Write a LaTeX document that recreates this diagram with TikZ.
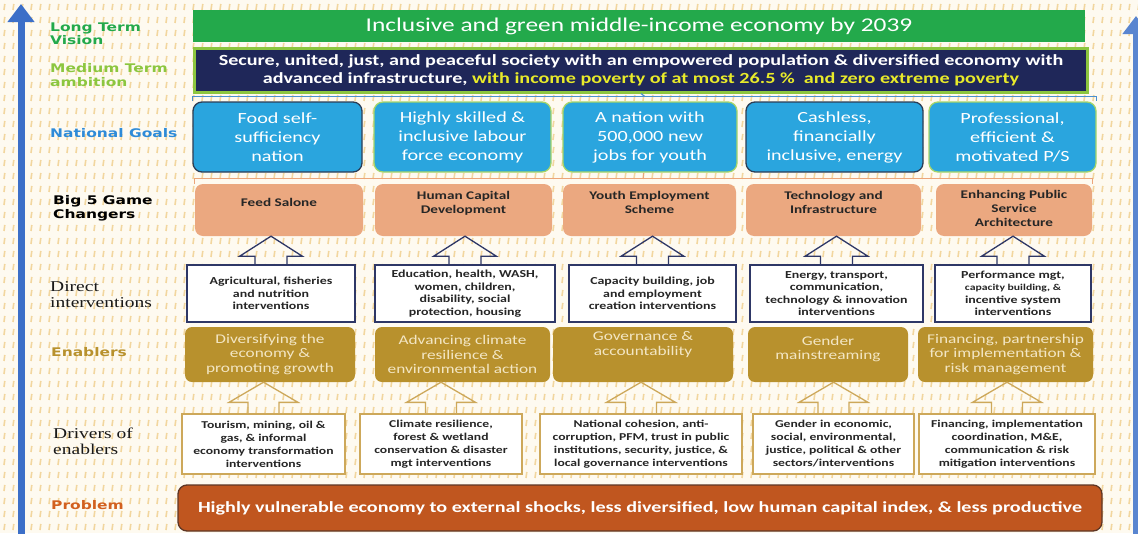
\documentclass[tikz,border=0pt]{standalone}
\usepackage{fontspec}
\setmainfont[FakeStretch=1.3]{Carlito}
\newfontfamily\lblfont[FakeStretch=1.3]{DejaVu Sans}
\newfontfamily\serfont[FakeStretch=1.3]{Liberation Serif}
\usepackage{tikz}
\usetikzlibrary{arrows.meta, positioning, calc, patterns}

\definecolor{bgcream}{HTML}{FEFAF0}
\definecolor{dashcol}{HTML}{F2D69E}
\definecolor{visgreen}{HTML}{23A94B}
\definecolor{ambgreen}{HTML}{8CC63F}
\definecolor{ambnavy}{HTML}{1F2759}
\definecolor{ambyellow}{HTML}{E8EA2A}
\definecolor{goalblue}{HTML}{2AA5DE}
\definecolor{goalrim}{HTML}{A6D568}
\definecolor{goaldark}{HTML}{2C3E56}
\definecolor{gamesalmon}{HTML}{EBA880}
\definecolor{navyline}{HTML}{2E3766}
\definecolor{goldfill}{HTML}{B8912D}
\definecolor{goldtext}{HTML}{F3E6C4}
\definecolor{goldline}{HTML}{CDA85A}
\definecolor{probfill}{HTML}{C0561F}
\definecolor{probline}{HTML}{5E3624}
\definecolor{probred}{HTML}{D2601F}
\definecolor{arrowblue}{HTML}{3C6FC8}
\definecolor{bracketblue}{HTML}{4A90D0}
\definecolor{bracketorange}{HTML}{EBA57A}
\definecolor{goaltitle}{HTML}{2E8BD8}

% background texture
\pgfdeclarepatternformonly{dashtex}{\pgfqpoint{-1pt}{-1pt}}{\pgfqpoint{10pt}{14pt}}{\pgfqpoint{9pt}{13pt}}{
    \pgfsetlinewidth{1.6pt}
    \pgfpathmoveto{\pgfqpoint{4pt}{3pt}}
    \pgfpathlineto{\pgfqpoint{4.8pt}{9pt}}
    \pgfusepath{stroke}}

\tikzstyle{rowname} = [anchor=west, align=left, inner sep=0pt,
    font=\lblfont\bfseries\fontsize{11.9}{13.5}\selectfont]
\tikzstyle{rowserif} = [anchor=west, align=left, inner sep=0pt,
    font=\serfont\fontsize{15}{16.5}\selectfont, text=black!90]
\tikzstyle{vision} = [rectangle, fill=visgreen, minimum width=892pt,
    minimum height=32pt, text=white, font=\fontsize{19.5}{22}\selectfont]
\tikzstyle{ambition} = [rectangle, fill=ambnavy, draw=ambgreen, line width=3pt,
    minimum width=893pt, minimum height=44pt, align=center, text=white,
    font=\bfseries\fontsize{15.5}{18}\selectfont]
\tikzstyle{goal} = [rectangle, rounded corners=9pt, fill=goalblue, draw=goalrim,
    line width=1.3pt, minimum height=70pt, align=center, text=white,
    font=\fontsize{15.5}{19}\selectfont]
\tikzstyle{game} = [rectangle, rounded corners=8pt, fill=gamesalmon,
    minimum height=52pt, align=center, text=black!85, text depth=15pt,
    font=\bfseries\fontsize{11.7}{14}\selectfont]
\tikzstyle{direct} = [rectangle, draw=navyline, line width=1.4pt, fill=white,
    minimum height=57pt, align=center, text=black!85,
    font=\bfseries\fontsize{10.7}{12.5}\selectfont]
\tikzstyle{enabler} = [rectangle, rounded corners=7pt, fill=goldfill,
    minimum height=55pt, align=center, text=goldtext,
    font=\fontsize{13.3}{14.5}\selectfont]
\tikzstyle{driver} = [rectangle, draw=goldline, line width=1.3pt, fill=white,
    minimum height=60pt, align=center, text=black!85,
    font=\bfseries\fontsize{10.5}{13}\selectfont]
\tikzstyle{problem} = [rectangle, rounded corners=9pt, fill=probfill, draw=probline,
    line width=1.3pt, minimum width=924pt, minimum height=46pt, text=white,
    font=\bfseries\fontsize{15.5}{17}\selectfont]
\tikzstyle{hollow} = [line width=1.3pt, line join=miter]
\tikzstyle{brace} = [line width=1.2pt]
\tikzstyle{sidearrow} = [line width=7pt, -{Triangle[length=18pt, width=26pt]}]

\begin{document}
\begin{tikzpicture}[node distance=184pt, x=1pt, y=-1pt]

    \useasboundingbox (0,0) rectangle (1138,533);
    \fill[bgcream] (0,0) rectangle (1138,533);
    \fill[pattern=dashtex, pattern color=dashcol] (0,0) rectangle (1138,533);

    % Side arrows
    \coordinate (lbot) at (21,540);
    \coordinate (ltop) at (21,4);
    \coordinate (rbot) at (1136,540);
    \coordinate (rtop) at (1136,16);
    \draw[sidearrow, arrowblue] (lbot) -- (ltop);
    \draw[sidearrow, arrowblue!85!white] (rbot) -- (rtop);

    % Row names
    \node (nvision) [rowname, text=visgreen] at (50,33.5) {Long Term\\Vision};
    \node (nambition) [rowname, text=ambgreen] at (50,75) {Medium Term\\ambition};
    \node (ngoals) [rowname, text=goaltitle] at (50,133) {National Goals};
    \node (ngame) [rowname, text=black] at (53,208.5) {Big 5 Game\\Changers};
    \node (ndirect) [rowserif] at (50,294.5) {Direct\\interventions};
    \node (nenabler) [rowname, text=goldfill] at (51,352) {Enablers};
    \node (ndriver) [rowserif] at (53,441.5) {Drivers of\\enablers};
    \node (nproblem) [rowname, text=probred] at (51,505) {Problem};

    % Vision and ambition
    \node (vis) [vision] at (639,26) {Inclusive and green middle-income economy by 2039};
    \node (amb) [ambition] at (641,70) {Secure, united, just, and peaceful society with an empowered population \& diversified economy with\\
        advanced infrastructure, {\color{ambyellow}with income poverty of at most 26.5 \%\ \ and zero extreme poverty}};

    % National goals
    \node (g1) [goal, draw=goaldark, minimum width=169pt] at (277.5,137) {Food self-\\sufficiency\\nation};
    \node (g2) [goal, right of=g1, xshift=1pt, minimum width=177pt] {Highly skilled \&\\inclusive labour\\force economy};
    \node (g3) [goal, right of=g2, xshift=3.5pt, minimum width=174pt] {A nation with\\500,000 new\\jobs for youth};
    \node (g4) [goal, draw=goaldark, right of=g3, xshift=0.5pt, minimum width=177pt] {Cashless,\\financially\\inclusive, energy};
    \node (g5) [goal, right of=g4, xshift=-6pt, minimum width=167pt] {Professional,\\efficient \&\\motivated P/S};

    % Game changers
    \node (c1) [game, minimum width=168pt] at (279,210) {Feed Salone};
    \node (c2) [game, right of=c1, xshift=0.5pt, minimum width=177pt] {Human Capital\\Development};
    \node (c3) [game, right of=c2, xshift=2pt, minimum width=173pt] {Youth Employment\\Scheme};
    \node (c4) [game, right of=c3, xshift=0pt, minimum width=175pt] {Technology and\\Infrastructure};
    \node (c5) [game, right of=c4, xshift=-3.5pt, minimum width=156pt, text depth=3pt] {Enhancing Public\\Service\\Architecture};

    % Direct interventions
    \node (i1) [direct, minimum width=168pt] at (271,293.5) {Agricultural, fisheries\\and nutrition\\interventions};
    \node (i2) [direct, right of=i1, xshift=10pt, minimum width=180pt] {Education, health, WASH,\\women, children,\\disability, social\\protection, housing};
    \node (i3) [direct, right of=i2, xshift=3.5pt, minimum width=167pt] {Capacity building, job\\and employment\\creation interventions};
    \node (i4) [direct, right of=i3, xshift=0pt, minimum width=173pt] {Energy, transport,\\communication,\\technology \& innovation\\interventions};
    \node (i5) [direct, right of=i4, xshift=-7.5pt, minimum width=156pt] {Performance mgt,\\{\fontsize{9}{12}\selectfont capacity building, \&}\\incentive system\\interventions};

    % Enablers
    \node (e1) [enabler, minimum width=170pt] at (270,354.5) {Diversifying the\\economy \&\\promoting growth};
    \node (e2) [enabler, right of=e1, xshift=8.5pt, minimum width=175pt] {Advancing climate\\resilience \&\\environmental action};
    \node (e3) [enabler, right of=e2, xshift=-3.5pt, minimum width=180pt, text depth=22pt] {Governance \&\\accountability};
    \node (e4) [enabler, right of=e3, xshift=1pt, minimum width=160pt, text depth=13pt] {Gender\\mainstreaming};
    \node (e5) [enabler, right of=e4, xshift=-6.5pt, minimum width=175pt] {Financing, partnership\\for implementation \&\\risk management};

    % Drivers of enablers
    \node (d1) [driver, minimum width=163pt] at (263.5,444) {Tourism, mining, oil \&\\gas, \& informal\\economy transformation\\interventions};
    \node (d2) [driver, right of=d1, xshift=-6.5pt, minimum width=162pt] {Climate resilience,\\forest \& wetland\\conservation \& disaster\\mgt interventions};
    \node (d3) [driver, right of=d2, xshift=16pt, minimum width=202pt] {National cohesion, anti-\\corruption, PFM, trust in public\\institutions, security, justice, \&\\local governance interventions};
    \node (d4) [driver, right of=d3, xshift=8.5pt, minimum width=161pt] {Gender in economic,\\social, environmental,\\justice, political \& other\\sectors/interventions};
    \node (d5) [driver, right of=d4, xshift=-10.5pt, minimum width=176pt] {Financing, implementation\\coordination, M\&E,\\communication \& risk\\mitigation interventions};

    % Problem
    \node (prob) [problem] at (640,508) {Highly vulnerable economy to external shocks, less diversified, low human capital index, \& less productive};

    % Braces
    \draw[brace, bracketblue] (g1.north west) -- ++(0,-5) -| (g5.north east);
    \draw[brace, bracketblue] ($(g1.north west)!.5!(g5.north east)$) ++(0,-5) -- (amb.south);
    \draw[brace, bracketorange] (c1.north west) -- ++(0,-5) -| (c5.north east);
    \draw[brace, bracketorange] ($(c1.north west)!.5!(c5.north east)$) ++(0,-5) -- ++(0,-6);

    % Arrows
    \foreach \n in {1,...,5} {
        \draw[hollow, navyline] ($(i\n.north)+(-16,0)$) -- ++(0,-8) -- ++(-15.5,0)
            -- (i\n.north |- c\n.south) -- ($(i\n.north)+(31.5,-8)$) -- ++(-15.5,0) -- ++(0,8);
        \draw[hollow, goldline] ($(d\n.north)+(-15.5,0)$) -- ++(0,-11) -- ++(-19,0)
            -- (d\n.north |- e\n.south) -- ($(d\n.north)+(34.5,-11)$) -- ++(-19,0) -- ++(0,11);
    }

\end{tikzpicture}
\end{document}
